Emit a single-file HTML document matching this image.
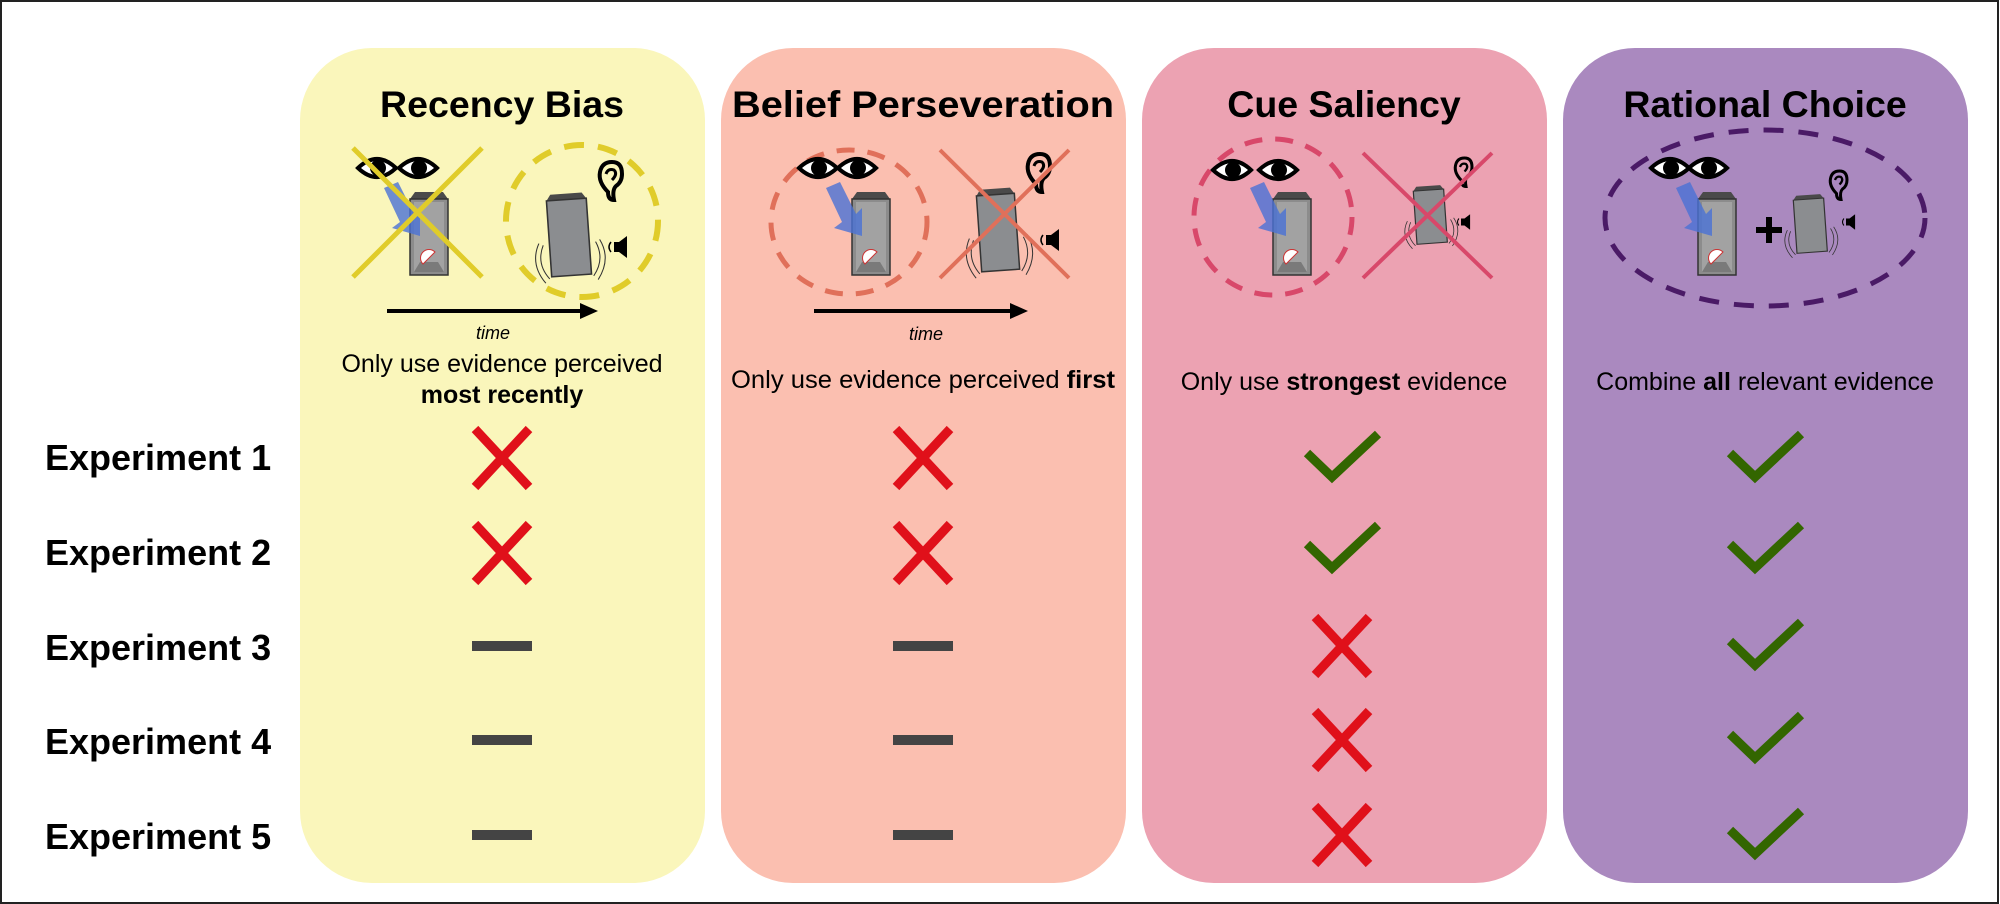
<!DOCTYPE html>
<html><head><meta charset="utf-8"><style>
html,body{margin:0;padding:0;background:#fff}
svg{display:block}
text{font-family:"Liberation Sans",Arial,sans-serif}
</style></head><body>
<svg width="2000" height="904" viewBox="0 0 2000 904" xmlns="http://www.w3.org/2000/svg">
<defs>
<g id="eye"><path d="M-19 0 Q0 -18 19 0 Q0 18 -19 0 Z" fill="#fff" stroke="#000" stroke-width="4"/><circle cx="1" cy="0" r="8" fill="#000"/></g>
<g id="box">
<polygon points="0,7 5,0 33,0 38,7" fill="#4a4a4a"/>
<rect x="0" y="7" width="38" height="76" fill="#8c8c8c" stroke="#333" stroke-width="1.5"/>
<polygon points="4,10 34,10 34,80 4,80" fill="#a2a2a2"/>
<polygon points="4,80 10,70 28,70 34,80" fill="#7a7a7a"/>
<path d="M13 72 A8 8 0 0 1 25 60 Z" fill="#fff" stroke="#c33" stroke-width="1"/>
</g>
<g id="tbox">
<polygon points="0,6 4,0 34,0 38,6" fill="#4a4a4a"/>
<rect x="0" y="6" width="38" height="76" fill="#8b8d90" stroke="#333" stroke-width="1.5"/>
<path d="M-6 50 Q-14 68 -2 84 M-10 48 Q-20 68 -6 88 M44 50 Q52 68 40 84 M48 48 Q58 68 44 88" fill="none" stroke="#333" stroke-width="1"/>
</g>
<g id="ear"><path d="M8 22 Q2 22 2 14 Q-8 4 -6 -6 Q-4 -16 6 -16 Q16 -16 16 -4 Q16 4 10 8 Q6 12 8 22Z" fill="none" stroke="#000" stroke-width="4"/><path d="M0 -4 Q2 -10 8 -8 Q12 -4 6 2" fill="none" stroke="#000" stroke-width="3"/></g>
<g id="spk"><rect x="0" y="-5" width="5" height="10" fill="#000"/><polygon points="5,-5 13,-11 13,11 5,5" fill="#000"/><path d="M-3 -5 Q-7 0 -3 5" fill="none" stroke="#000" stroke-width="1.5"/></g>
<g id="rx"><path d="M-27 -29 L27 29 M27 -29 L-27 29" stroke="#e0101a" stroke-width="9"/></g>
<g id="ck"><path d="M-35 -4 L-10 20 L36 -23" fill="none" stroke="#336600" stroke-width="9"/></g>
<g id="dash"><rect x="-30" y="-5" width="60" height="10" fill="#444"/></g>
<g id="barrow"><polygon points="0,0 14,-6 30,26 36,20 36,48 8,40 16,34" fill="#4a72d6" opacity="0.8"/></g>
</defs>

<rect x="1" y="1" width="1997" height="902" fill="none" stroke="#222" stroke-width="2"/>

<rect x="300" y="48" width="405" height="835" rx="72" fill="#faf6bb"/>
<rect x="721" y="48" width="405" height="835" rx="72" fill="#fbbfb0"/>
<rect x="1142" y="48" width="405" height="835" rx="72" fill="#eca2b2"/>
<rect x="1563" y="48" width="405" height="835" rx="72" fill="#aa89bf"/>

<g font-weight="bold" font-size="37.5" text-anchor="middle">
<text x="502" y="117">Recency Bias</text>
<text x="923" y="117" textLength="382" lengthAdjust="spacingAndGlyphs">Belief Perseveration</text>
<text x="1344" y="117">Cue Saliency</text>
<text x="1765" y="117">Rational Choice</text>
</g>

<!-- Panel 1 -->
<use href="#eye" x="377" y="168"/><use href="#eye" x="418" y="168"/>
<use href="#box" x="410" y="192"/>
<use href="#barrow" x="384" y="188"/>
<path d="M353 148 L482 277 M482 148 L353 277" stroke="#e0cc2a" stroke-width="5"/>
<ellipse cx="582" cy="221" rx="76" ry="76" fill="none" stroke="#e0cc2a" stroke-width="6" stroke-dasharray="20 14"/>
<g transform="translate(546,195) rotate(-4) scale(1.05,1)"><use href="#tbox"/></g>
<use href="#ear" x="606" y="178"/>
<use href="#spk" x="614" y="247"/>
<line x1="387" y1="311" x2="582" y2="311" stroke="#000" stroke-width="4"/><polygon points="580,303 598,311 580,319" fill="#000"/>
<text x="493" y="339" font-size="18" font-style="italic" text-anchor="middle">time</text>
<text x="502" y="372" font-size="25" text-anchor="middle">Only use evidence perceived</text>
<text x="502" y="403" font-size="25" font-weight="bold" text-anchor="middle">most recently</text>

<!-- Panel 2 -->
<ellipse cx="849" cy="222" rx="78" ry="72" fill="none" stroke="#e0705a" stroke-width="5" stroke-dasharray="18 13"/>
<use href="#eye" x="818" y="168"/><use href="#eye" x="857" y="168"/>
<use href="#box" x="852" y="192"/>
<use href="#barrow" x="826" y="188"/>
<g transform="translate(976,190) rotate(-4)"><use href="#tbox"/></g>
<use href="#ear" x="1034" y="170"/>
<use href="#spk" x="1046" y="240"/>
<path d="M940 150 L1069 278 M1069 150 L940 278" stroke="#e0705a" stroke-width="4"/>
<line x1="814" y1="311" x2="1012" y2="311" stroke="#000" stroke-width="4"/><polygon points="1010,303 1028,311 1010,319" fill="#000"/>
<text x="926" y="340" font-size="18" font-style="italic" text-anchor="middle">time</text>
<text x="923" y="388" font-size="25" text-anchor="middle" textLength="384" lengthAdjust="spacingAndGlyphs">Only use evidence perceived <tspan font-weight="bold">first</tspan></text>

<!-- Panel 3 -->
<ellipse cx="1273" cy="217" rx="79" ry="78" fill="none" stroke="#d8486a" stroke-width="5" stroke-dasharray="18 13"/>
<use href="#eye" x="1232" y="170"/><use href="#eye" x="1278" y="170"/>
<use href="#box" x="1273" y="192"/>
<use href="#barrow" x="1250" y="188"/>
<g transform="translate(1413,187) rotate(-4) scale(0.8,0.7)"><use href="#tbox"/></g>
<g transform="translate(1460,170) scale(0.75)"><use href="#ear"/></g>
<g transform="translate(1461,222) scale(0.7)"><use href="#spk"/></g>
<path d="M1363 153 L1492 278 M1492 153 L1363 278" stroke="#d8486a" stroke-width="4"/>
<text x="1344" y="390" font-size="25" text-anchor="middle">Only use <tspan font-weight="bold">strongest</tspan> evidence</text>

<!-- Panel 4 -->
<ellipse cx="1765" cy="218" rx="160" ry="88" fill="none" stroke="#4a1a66" stroke-width="5" stroke-dasharray="20 15"/>
<use href="#eye" x="1670" y="168"/><use href="#eye" x="1708" y="168"/>
<use href="#box" x="1698" y="192"/>
<use href="#barrow" x="1676" y="188"/>
<path d="M1756 230 H1782 M1769 217 V243" stroke="#000" stroke-width="6"/>
<g transform="translate(1793,196) rotate(-4) scale(0.8,0.7)"><use href="#tbox"/></g>
<g transform="translate(1835,183) scale(0.75)"><use href="#ear"/></g>
<g transform="translate(1846,222) scale(0.7)"><use href="#spk"/></g>
<text x="1765" y="390" font-size="25" text-anchor="middle">Combine <tspan font-weight="bold">all</tspan> relevant evidence</text>

<!-- Row labels -->
<g font-weight="bold" font-size="36">
<text x="45" y="470">Experiment 1</text>
<text x="45" y="565">Experiment 2</text>
<text x="45" y="660">Experiment 3</text>
<text x="45" y="754">Experiment 4</text>
<text x="45" y="849">Experiment 5</text>
</g>

<!-- marks -->
<use href="#rx" x="502" y="458"/><use href="#rx" x="502" y="553"/>
<use href="#dash" x="502" y="646"/><use href="#dash" x="502" y="740"/><use href="#dash" x="502" y="835"/>
<use href="#rx" x="923" y="458"/><use href="#rx" x="923" y="553"/>
<use href="#dash" x="923" y="646"/><use href="#dash" x="923" y="740"/><use href="#dash" x="923" y="835"/>
<use href="#ck" x="1342" y="457"/><use href="#ck" x="1342" y="548"/>
<use href="#rx" x="1342" y="646"/><use href="#rx" x="1342" y="740"/><use href="#rx" x="1342" y="835"/>
<use href="#ck" x="1765" y="457"/><use href="#ck" x="1765" y="548"/>
<use href="#ck" x="1765" y="645"/><use href="#ck" x="1765" y="738"/><use href="#ck" x="1765" y="834"/>
</svg>
</body></html>
